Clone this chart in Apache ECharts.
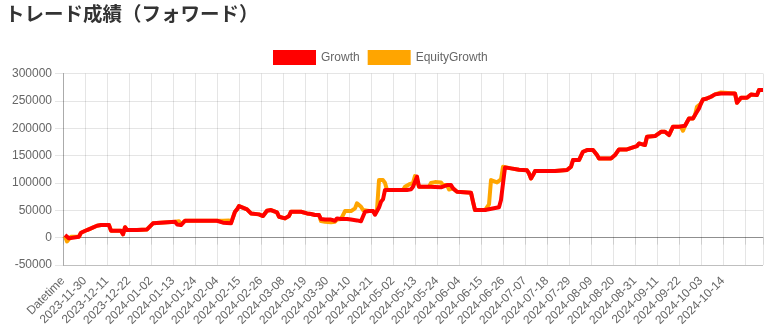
<!DOCTYPE html>
<html>
<head>
<meta charset="utf-8">
<script src="https://cdn.jsdelivr.net/npm/echarts@6/dist/echarts.min.js"></script>
<style>
  html, body { margin: 0; padding: 0; background: #ffffff; }
  #chart { width: 771px; height: 333px; }
</style>
</head>
<body>
<div id="chart"></div>
<script>
// Daily categories: a header slot followed by one entry per calendar day
const headerLabel = 'Datetime';
const firstDay = '2023-11-20';
const dayCount = 350;

// Growth: [day slot, value] at each turning point of the curve
const growth = [
  [1, 4700], [3, -1300], [4, 1700], [8, 1700], [9, 9000], [10, 10800], [12, 13900], [13, 16900],
  [14, 16900], [15, 20000], [17, 21800], [18, 20000], [19, 23000], [21, 23000], [22, 24200], [23, 23000],
  [24, 12700], [29, 12700], [30, 6000], [31, 19000], [32, 13900], [37, 13900], [38, 15100], [42, 15100],
  [43, 16900], [45, 26100], [46, 29100], [56, 29100], [57, 24200], [59, 23000], [60, 21800], [61, 30900],
  [77, 30900], [80, 27300], [84, 26100], [85, 24200], [86, 47400], [87, 51600], [88, 57700], [89, 56500],
  [92, 51600], [94, 44300], [95, 43100], [98, 42500], [100, 39500], [102, 49200], [104, 50400], [105, 53500],
  [107, 46200], [108, 38200], [111, 35200], [113, 39500], [114, 47400], [115, 48600], [119, 47400], [120, 45500],
  [122, 44300], [124, 43100], [126, 41300], [128, 41300], [129, 34000], [131, 33000], [134, 33000],
  [135, 32200], [136, 30900], [137, 35200], [139, 34000], [140, 35800], [142, 34000], [144, 33000], [145, 32000],
  [147, 31500], [149, 30000], [150, 27200], [151, 47400], [153, 48600], [155, 48600], [156, 42000], [157, 41000],
  [158, 55000], [159, 65600], [160, 70000], [161, 87000], [172, 87000], [174, 88200], [175, 93100], [176, 96100], [177, 111500],
  [178, 93100], [183, 93100], [189, 92000], [190, 93100], [192, 96000], [194, 96000], [195, 90000], [197, 84000], [198, 82100],
  [204, 82100], [205, 65600], [206, 50400], [211, 50400], [212, 53500], [218, 55500], [219, 68700], [220, 99100],
  [221, 128400], [224, 126600], [228, 124000], [232, 123000], [233, 117400], [234, 108300], [235, 114400], [236, 121700],
  [246, 121700], [247, 123500], [252, 123500], [253, 120500], [254, 129600], [255, 141800], [258, 141800], [259, 144800],
  [260, 157000], [262, 160000], [265, 160000], [266, 157000], [267, 150900], [268, 144800], [274, 144800], [276, 150900],
  [278, 161300], [282, 161300], [283, 164900], [285, 164900], [287, 167400], [288, 172200], [289, 169200], [291, 169200],
  [292, 184400], [296, 185600], [297, 183200], [299, 193500], [301, 193500], [303, 187500], [305, 202700], [308, 202700],
  [311, 204500], [312, 205700], [313, 217900], [315, 217900], [316, 224000], [317, 230100], [318, 236200], [319, 245300],
  [320, 252600], [322, 254400], [324, 257500], [326, 261800], [329, 263600], [336, 263600], [337, 246500], [338, 248300],
  [339, 255600], [342, 255600], [344, 261800], [345, 258700], [347, 260500], [348, 269700], [350, 269700]
];

// EquityGrowth: [day slot, value]
const equityGrowth = [
  [1, 3000], [2, -7000], [3, -2500], [4, 1700], [8, 1700], [9, 9000], [10, 10800], [12, 13900], [13, 16900],
  [14, 16900], [15, 20000], [17, 21800], [18, 20000], [19, 23000], [21, 23000], [22, 24200], [23, 23000],
  [24, 12700], [29, 12700], [30, 6000], [31, 19000], [32, 13900], [37, 13900], [38, 15100], [42, 15100],
  [43, 16900], [45, 26100], [46, 29100], [56, 29100], [58, 30000], [59, 24000], [60, 21800], [61, 30900],
  [77, 30900], [78, 28000], [80, 31000], [83, 31500], [84, 27000], [85, 24200], [86, 47400], [87, 51600], [88, 57700], [89, 56500],
  [92, 51600], [94, 44300], [95, 43100], [98, 42500], [100, 39500], [102, 49200], [104, 50400], [105, 53500],
  [107, 46200], [108, 38200], [111, 35200], [113, 39500], [114, 47400], [115, 48600], [119, 47400], [120, 45500],
  [122, 44300], [124, 43100], [126, 41300], [128, 41300], [129, 30300], [131, 29000], [134, 28000], [136, 29100],
  [137, 33000], [139, 34000], [140, 36000], [141, 48600], [142, 50400], [144, 48600], [146, 53500], [147, 62700],
  [149, 56500], [150, 50400], [151, 47400], [153, 48600], [155, 48600], [156, 44000], [157, 50400], [158, 105200],
  [160, 105200], [161, 100000], [162, 87000], [170, 87000], [171, 93100], [173, 97300], [174, 99100],
  [175, 100000], [176, 112500], [177, 109000], [178, 93100], [183, 93100], [184, 100000], [186, 101500], [189, 101000],
  [190, 96000], [192, 96000], [193, 88000], [194, 90000], [195, 90000], [197, 84000],
  [198, 82100], [204, 82100], [205, 65600], [206, 50400], [211, 50400], [212, 53500], [213, 60800], [214, 105200],
  [215, 108300], [217, 101000], [218, 104000], [219, 106500], [220, 129600], [221, 132600], [224, 126600], [228, 124000],
  [232, 123000], [233, 117400], [234, 108300], [235, 114400], [236, 121700],
  [246, 121700], [247, 123500], [252, 123500], [253, 120500], [254, 129600], [255, 141800], [258, 141800], [259, 144800],
  [260, 157000], [262, 160000], [265, 160000], [266, 157000], [267, 150900], [268, 144800], [274, 144800], [276, 150900],
  [278, 161300], [282, 161300], [283, 164900], [285, 164900], [287, 167400], [288, 172200], [289, 169200], [291, 169200],
  [292, 184400], [296, 185600], [297, 183200], [299, 193500], [301, 193500], [303, 187500], [305, 202700], [309, 202700],
  [310, 195400], [311, 204500], [312, 205700], [313, 217900], [315, 217900], [316, 224000], [317, 239200], [318, 236200],
  [319, 245300], [320, 252600], [322, 254400], [324, 257500], [326, 261800], [329, 265400], [336, 263600], [337, 246500],
  [338, 248300], [339, 255600], [342, 255600], [344, 261800], [345, 258700], [347, 260500], [348, 269700], [350, 269700]
];

// Y scale
const yMin = -50000;
const yMax = 300000;
const yStep = 50000;
const labelEvery = 11;
const lastLabelSlot = 330;

function buildCategories() {
  const out = [headerLabel];
  const start = new Date(firstDay + 'T00:00:00Z');
  for (let i = 0; i < dayCount; i++) {
    const d = new Date(start.getTime() + i * 86400000);
    out.push(d.toISOString().slice(0, 10));
  }
  return out;
}
const categories = buildCategories();
const lastSlot = categories.length - 1;

const gridColor = 'rgba(0,0,0,0.1)';
const axisColor = 'rgba(0,0,0,0.25)';
const textFont = '"Liberation Sans", Arial, Helvetica, sans-serif';

const chart = echarts.init(document.getElementById('chart'), null, { renderer: 'canvas' });

// darker rule for the bottom edge and the zero line
const hLineColors = [];
for (let v = yMin; v <= yMax; v += yStep) hLineColors.push(v === 0 || v === yMin ? axisColor : gridColor);

chart.setOption({
  animation: false,
  backgroundColor: '#ffffff',
  title: {
    text: 'トレード成績（フォワード）',
    left: 5,
    top: 4,
    padding: 0,
    textStyle: {
      fontFamily: '"Noto Sans CJK JP", sans-serif',
      fontWeight: 'bold',
      fontSize: 19.5,
      color: '#333333'
    }
  },
  legend: {
    data: ['Growth', 'EquityGrowth'],
    left: 273,
    top: 50,
    padding: 0,
    itemWidth: 43,
    itemHeight: 15,
    itemGap: 8,
    icon: 'rect',
    textStyle: { fontFamily: textFont, fontSize: 12, color: '#666666' }
  },
  grid: { left: 63, right: 8, top: 73.5, bottom: 68, containLabel: false },
  xAxis: {
    type: 'category',
    data: categories,
    boundaryGap: false,
    axisLine: { show: true, lineStyle: { color: axisColor, width: 1 } },
    axisTick: {
      show: true,
      length: 7,
      interval: (i) => i % labelEvery === 0 || i === lastSlot,
      lineStyle: { color: gridColor }
    },
    axisLabel: {
      interval: (i) => i % labelEvery === 0 && i <= lastLabelSlot,
      rotate: 45,
      margin: 14,
      fontFamily: textFont,
      fontSize: 12,
      color: '#666666'
    },
    splitLine: {
      show: true,
      interval: (i) => i % labelEvery === 0 || i === lastSlot,
      lineStyle: { color: gridColor, width: 1 }
    }
  },
  yAxis: {
    type: 'value',
    min: yMin,
    max: yMax,
    interval: yStep,
    axisLine: { show: true, lineStyle: { color: axisColor, width: 1 } },
    axisTick: { show: true, length: 8, lineStyle: { color: gridColor } },
    axisLabel: {
      margin: 11,
      fontFamily: textFont,
      fontSize: 12,
      color: '#666666',
      formatter: (v) => String(v)
    },
    splitLine: { show: true, lineStyle: { color: hLineColors, width: 1 } }
  },
  series: [
    {
      name: 'Growth',
      type: 'line',
      data: growth,
      symbol: 'none',
      z: 4,
      itemStyle: { color: '#ff0000' },
      lineStyle: { color: '#ff0000', width: 4, join: 'round' }
    },
    {
      name: 'EquityGrowth',
      type: 'line',
      data: equityGrowth,
      symbol: 'none',
      z: 3,
      itemStyle: { color: '#ffa500' },
      lineStyle: { color: '#ffa500', width: 4, join: 'round' }
    }
  ]
});
</script>
</body>
</html>
